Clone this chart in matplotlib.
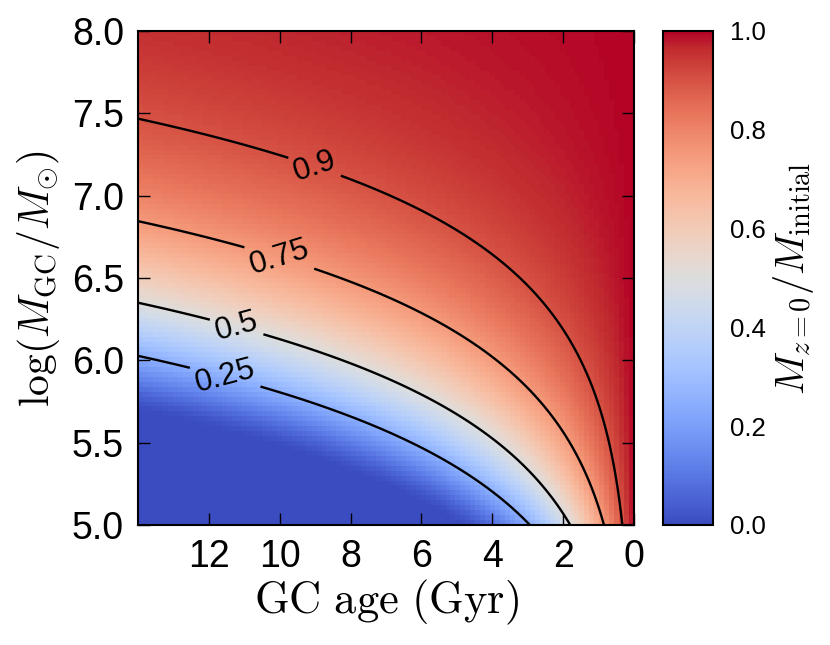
import numpy as np
import matplotlib
matplotlib.use("Agg")
import matplotlib.pyplot as plt

plt.rcParams['font.family'] = ['Liberation Sans', 'DejaVu Sans']
plt.rcParams['mathtext.fontset'] = 'cm'

# ---- data / model parameters ----
age_range = [14.0, 0.0]          # Gyr (reversed axis)
logm_range = [5.0, 8.0]          # log(M/Msun)
age_ticks = [12, 10, 8, 6, 4, 2, 0]
logm_ticks = [5.0, 5.5, 6.0, 6.5, 7.0, 7.5, 8.0]
cbar_ticks = [0.0, 0.2, 0.4, 0.6, 0.8, 1.0]
contour_levels = [0.25, 0.5, 0.75, 0.9]
contour_label_pos = [(11.5, 5.93), (11.2, 6.215), (10.0, 6.63), (9.0, 7.186)]
gamma = 0.66                     # dissolution-time mass exponent
t0_gyr = 0.002457                # dissolution time scale
n_cells = 100

def surviving_fraction(age, logm):
    tdis = t0_gyr * (10.0 ** logm) ** gamma
    x = np.clip(1.0 - age / tdis, 0.0, 1.0)
    return x ** (1.0 / gamma)

# cell grid for the image
edges_t = np.linspace(0, 14, n_cells + 1)
edges_m = np.linspace(5, 8, n_cells + 1)
ct = 0.5 * (edges_t[1:] + edges_t[:-1])
cm_ = 0.5 * (edges_m[1:] + edges_m[:-1])
T, LM = np.meshgrid(ct, cm_)
frac = surviving_fraction(T, LM)

# finer grid for contours
ft = np.linspace(0, 14, 500)
fm = np.linspace(5, 8, 500)
FT, FM = np.meshgrid(ft, fm)
ffrac = surviving_fraction(FT, FM)

fig = plt.figure(figsize=(8.3, 6.45), dpi=100)
ax = fig.add_axes([138/830, 120/645, 496/830, 494/645])
cax = fig.add_axes([663/830, 120/645, 50/830, 494/645])

im = ax.pcolormesh(edges_t, edges_m, frac, cmap='coolwarm', vmin=0, vmax=1,
                   shading='flat', rasterized=True)
cs = ax.contour(FT, FM, ffrac, levels=contour_levels, colors='black', linewidths=1.7)
ax.clabel(cs, fmt={0.25: '0.25', 0.5: '0.5', 0.75: '0.75', 0.9: '0.9'},
          fontsize=22.5, inline=True, inline_spacing=6, manual=contour_label_pos)

ax.set_xlim(*age_range)
ax.set_ylim(*logm_range)
ax.set_xticks(age_ticks)
ax.set_yticks(logm_ticks)
ax.set_yticklabels([f"{v:.1f}" for v in logm_ticks])
ax.tick_params(direction='in', top=True, right=True, length=8.5, width=1.0,
               labelsize=27, pad=10)
for s in ax.spines.values():
    s.set_linewidth(1.5)

ax.set_xlabel(r'$\mathrm{GC\ age\ (Gyr)}$', fontsize=32, labelpad=2)
ax.set_ylabel(r'$\log(M_{\rm GC}/M_{\odot})$', fontsize=30, labelpad=7)

cb = fig.colorbar(im, cax=cax, ticks=cbar_ticks)
cb.ax.set_yticklabels([f"{v:.1f}" for v in cbar_ticks])
cb.ax.tick_params(length=0, labelsize=18.5, pad=12)
cb.outline.set_linewidth(1.5)
cb.set_label(r'$M_{z=0}/M_{\rm initial}$', fontsize=29, labelpad=4)

fig.savefig('out.png', dpi=100)
